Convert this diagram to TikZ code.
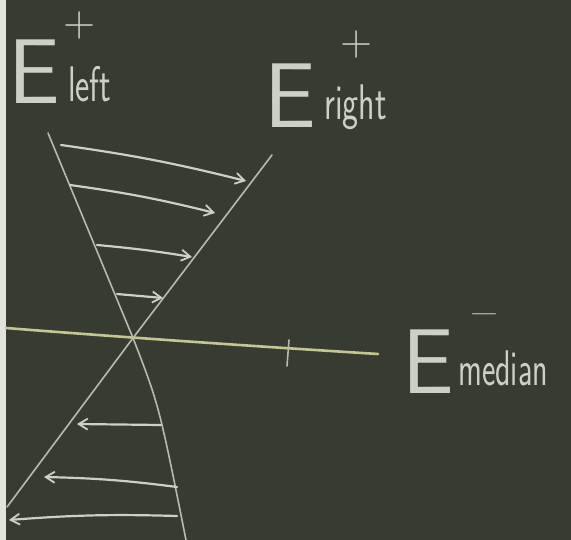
\documentclass[tikz,border=0pt]{standalone}
\usetikzlibrary{arrows.meta}
\definecolor{board}{RGB}{56,59,50}
\definecolor{chalk}{RGB}{205,208,200}
\definecolor{yellowchalk}{RGB}{196,198,150}
\begin{document}
\begin{tikzpicture}[
    x=1pt, y=-1pt,
    chalkline/.style={draw=chalk!85!board, line width=1.6pt, line cap=round},
    axisline/.style={draw=yellowchalk, line width=2.6pt, line cap=round},
    field/.style={draw=chalk, line width=2.2pt, line cap=round, -{Straight Barb[length=9pt,width=11pt,line width=1.8pt]}},
    bigE/.style={text=chalk, font=\sffamily\fontsize{92}{92}\selectfont, inner sep=0pt, anchor=south west},
    sign/.style={text=chalk, font=\sffamily\fontsize{44}{44}\selectfont, inner sep=0pt},
    sub/.style={text=chalk, font=\sffamily\fontsize{40}{40}\selectfont, inner sep=0pt, anchor=south west}
]

% Tafel
\useasboundingbox (0,0) rectangle (571,540);
\fill[board] (0,0) rectangle (571,540);
\fill[chalk!60!white] (0,0) rectangle (6,540);

% Achse und Flaechen
\coordinate (cross) at (133,338);
\coordinate (axL) at (6,328);
\coordinate (axR) at (378,354);
\coordinate (tickT) at (289,340);
\coordinate (tickB) at (287,366);
\coordinate (leftT) at (48,133);
\coordinate (leftB) at (186,540);
\coordinate (rightT) at (272,155);
\coordinate (rightB) at (7,507);

\draw[axisline] (axL) .. controls (120,337) and (250,346) .. (axR);
\draw[chalkline] (tickT) -- (tickB);
\draw[chalkline] (leftT) -- (cross) .. controls (159,405) .. (leftB);
\draw[chalkline] (rightT) -- (cross) -- (rightB);

% Feldpfeile oben (nach rechts)
\coordinate (a1) at (61,145);
\coordinate (b1) at (246,181);
\coordinate (a2) at (70,185);
\coordinate (b2) at (215,213);
\coordinate (a3) at (97,245);
\coordinate (b3) at (192,257);
\coordinate (a4) at (117,294);
\coordinate (b4) at (163,298);

\draw[field] (a1) to[bend left=3] (b1);
\draw[field] (a2) to[bend left=3] (b2);
\draw[field] (a3) to[bend left=2] (b3);
\draw[field] (a4) -- (b4);

% Feldpfeile unten (nach links)
\coordinate (c1) at (161,425);
\coordinate (d1) at (77,424);
\coordinate (c2) at (177,487);
\coordinate (d2) at (44,477);
\coordinate (c3) at (177,516);
\coordinate (d3) at (9,520);

\draw[field] (c1) -- (d1);
\draw[field] (c2) to[bend right=3] (d2);
\draw[field] (c3) to[bend right=3] (d3);

% Beschriftungen
\node[bigE] (Eleft) at (8,104) {E};
\node[sign] (pleft) at (80,26) {+};
\node[sub] (sleft) at (68,102) {\scalebox{0.85}[1.25]{left}};

\node[bigE] (Eright) at (264,128) {E};
\node[sign] (pright) at (357,45) {+};
\node[sub] (sright) at (324,130) {\scalebox{0.85}[1.25]{right}};

\node[bigE] (Emed) at (402,394) {E};
\node[sign] (mmed) at (484,314) {\scalebox{1.6}[1]{$-$}};
\node[sub] (smed) at (458,386) {\scalebox{0.8}[1.25]{median}};

\end{tikzpicture}
\end{document}
